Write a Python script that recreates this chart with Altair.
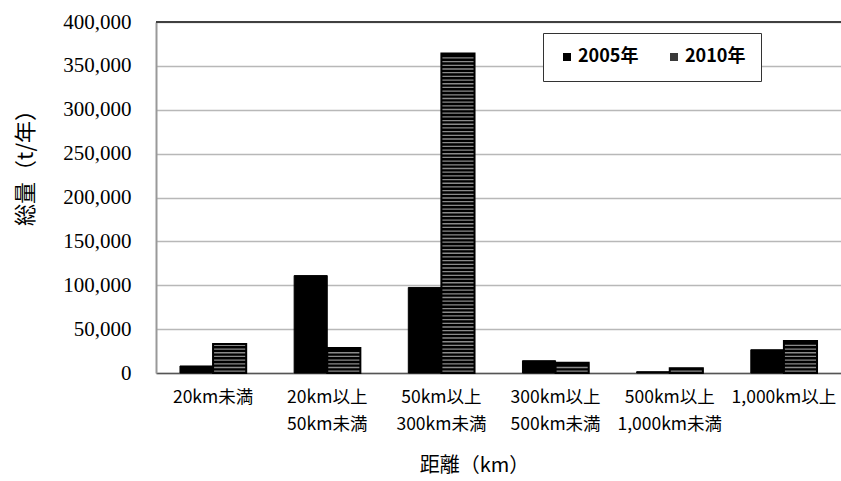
import altair as alt
import pandas as pd

categories = ["20km未満", "20km以上\n50km未満", "50km以上\n300km未満",
              "300km以上\n500km未満", "500km以上\n1,000km未満", "1,000km以上"]
series = ["2005年", "2010年"]
values_2005 = [8000, 111000, 97500, 14000, 1500, 26500]
values_2010 = [33000, 28500, 364000, 11700, 5300, 36500]
y_ticks = [0, 50000, 100000, 150000, 200000, 250000, 300000, 350000, 400000]

rows = []
for c, v in zip(categories, values_2005):
    rows.append({"cat": c, "year": series[0], "value": v})
for c, v in zip(categories, values_2010):
    rows.append({"cat": c, "year": series[1], "value": v})
df = pd.DataFrame(rows)

SANS = "Noto Sans CJK JP"
SERIF = "Liberation Serif"

x_axis = alt.Axis(title="距離（km）", labelAngle=0,
                  labelExpr="split(datum.label, '\\n')",
                  labelFont=SANS, labelFontSize=17.5, labelLineHeight=27,
                  labelPadding=15, labelColor="#000",
                  labelBaseline="top", labelLimit=200,
                  ticks=False, domainColor="#555", domainWidth=1.5,
                  titleFont=SANS, titleFontSize=20, titleFontWeight="normal",
                  titleX=318, titleY=92, titleAlign="center",
                  titleBaseline="middle", titleColor="#000")
y_axis = alt.Axis(title="総量（t/年）", values=y_ticks, format=",.0f",
                  labelFont=SERIF, labelFontSize=21, labelColor="#000",
                  labelPadding=25, ticks=False,
                  domainColor="#999", domainWidth=2,
                  gridColor="#b8b8b8", gridWidth=1.3,
                  titleFont=SANS, titleFontSize=22, titleFontWeight="normal",
                  titleX=-131, titleY=140, titleAngle=-90,
                  titleAlign="center", titleBaseline="middle", titleColor="#000")

x_scale = alt.Scale(paddingInner=0.42, paddingOuter=0.21)
y_scale = alt.Scale(domain=[0, 400000], nice=False)

x_enc = alt.X("cat:N", sort=categories, scale=x_scale, axis=x_axis)
xo_enc = alt.XOffset("year:N", scale=alt.Scale(domain=series, paddingInner=0))

base = alt.Chart(df)

bars = base.mark_bar(stroke="#000", strokeWidth=1).encode(
    x=x_enc, xOffset=xo_enc, y=alt.Y("value:Q", scale=y_scale, axis=y_axis),
    color=alt.Color("year:N", scale=alt.Scale(domain=series, range=["#000000", "#3a3a3a"]),
                    legend=alt.Legend(title=None, orient="none", legendX=387, legendY=11,
                                      direction="horizontal", symbolType="square",
                                      symbolSize=64, symbolStrokeWidth=0,
                                      labelFont=SANS, labelFontSize=18, labelFontWeight="bold",
                                      labelColor="#000", labelOffset=2, columnPadding=26,
                                      padding=15, strokeColor="#333", fillColor="#fff")),
)

d2010 = base.transform_filter(alt.datum.year == series[1])

black2010 = d2010.mark_bar(color="#000").encode(
    x=x_enc, xOffset=xo_enc, y=alt.Y("value:Q", scale=y_scale, axis=y_axis))

stripes = d2010.transform_calculate(
    s="sequence(1300, datum.value - 2200, 4200)"
).transform_flatten(["s"]).transform_calculate(
    s2="datum.s + 1500"
).mark_rect(color="#8a8a8a").encode(
    x=x_enc, xOffset=xo_enc,
    y=alt.Y("s:Q", scale=y_scale, axis=y_axis), y2="s2:Q")

outline = d2010.mark_bar(fill=None, fillOpacity=0, stroke="#000", strokeWidth=2).encode(
    x=x_enc, xOffset=xo_enc,
    y=alt.Y("value:Q", scale=y_scale, axis=y_axis))

toprule = alt.Chart(pd.DataFrame({"v": [400000]})).mark_rule(color="#404040", strokeWidth=2).encode(
    y=alt.Y("v:Q", scale=y_scale, axis=y_axis))

chart = alt.layer(bars, black2010, stripes, outline, toprule).properties(
    width=685, height=351,
    autosize=alt.AutoSizeParams(type="none"),
    padding={"left": 156, "top": 22, "right": 0, "bottom": 108},
    background="#ffffff",
).configure_view(stroke=None).configure_axisY(labelFont=SERIF)

chart.save("out.html", embed_options={"renderer": "svg", "actions": False})
